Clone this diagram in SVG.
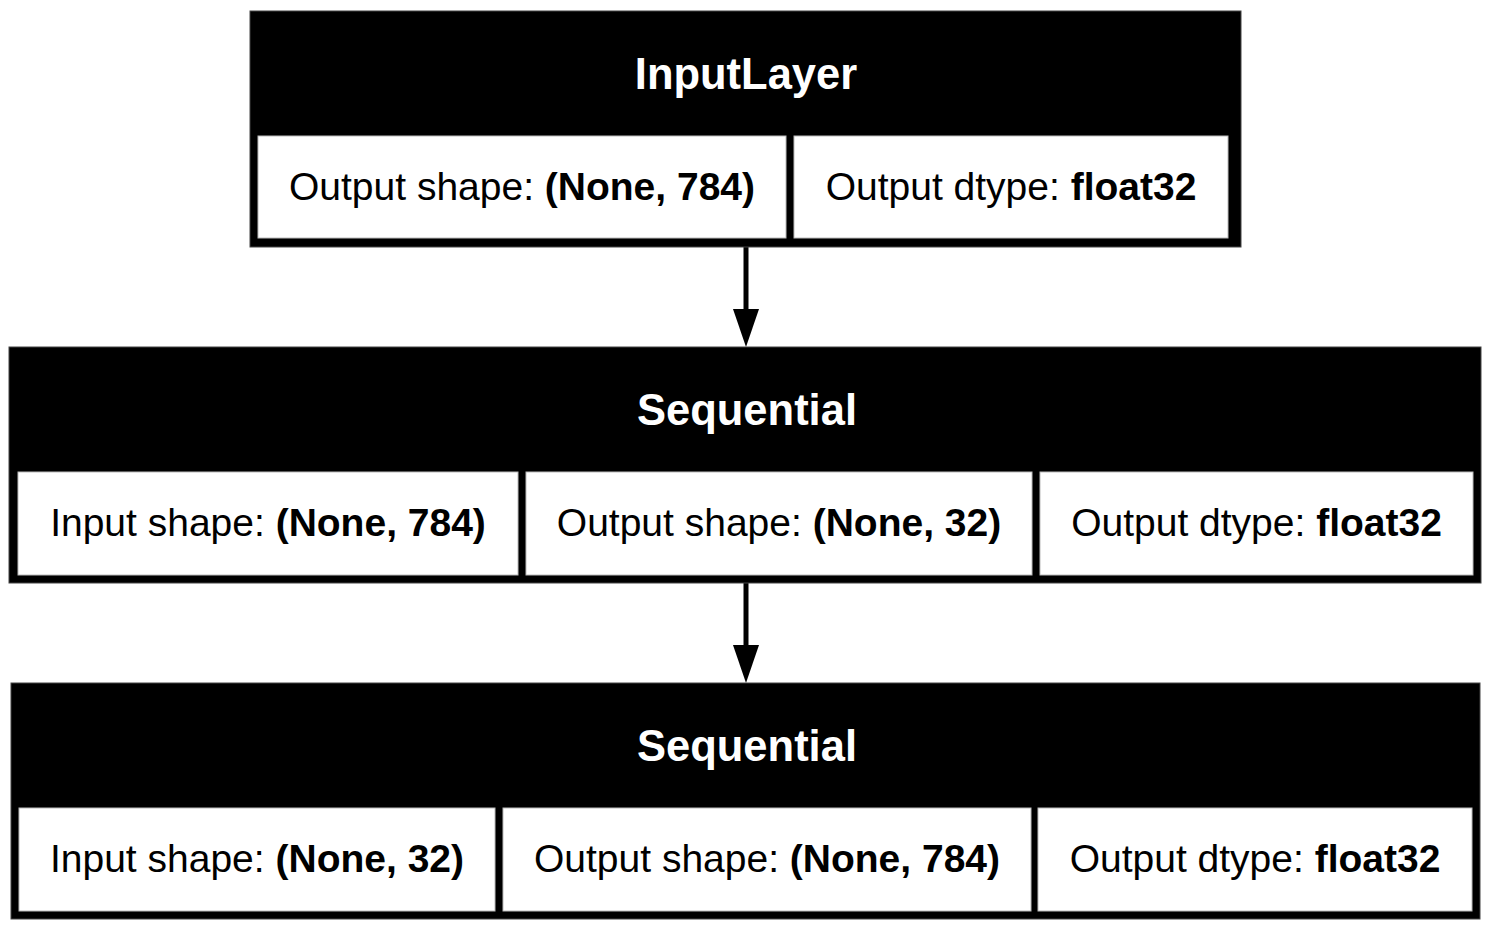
<svg xmlns="http://www.w3.org/2000/svg" width="1492" height="931" viewBox="0 0 1492 931">
<style>
.outer{fill:#000;stroke:#444;stroke-width:1}
.cell{fill:#fff;stroke:#bbb;stroke-width:1}
.title{font-family:"Liberation Sans",Arial,sans-serif;font-weight:bold;font-size:43.5px;fill:#fff;text-anchor:middle}
.body{font-family:"Liberation Sans",Arial,sans-serif;font-size:39px;fill:#000;text-anchor:middle}
.b{font-weight:bold}
.edge{stroke:#000;stroke-width:5;fill:none}
.head{fill:#000}
</style>
<rect width="1492" height="931" fill="#fff"/>
<g id="connectors">
<line class="edge" x1="746" y1="247" x2="746" y2="312"/>
<polygon class="head" points="733,309 759,309 746,347"/>
<line class="edge" x1="746" y1="583" x2="746" y2="648"/>
<polygon class="head" points="733,645 759,645 746,683"/>
</g>
<g id="node-inputlayer">
<rect class="outer" x="250" y="11" width="991" height="236"/>
<text class="title" x="746" y="89">InputLayer</text>
<rect class="cell" x="258" y="136" width="528" height="102"/>
<rect class="cell" x="794" y="136" width="434" height="102"/>
<text class="body" x="522" y="200">Output shape: <tspan class="b">(None, 784)</tspan></text>
<text class="body" x="1011" y="200">Output dtype: <tspan class="b">float32</tspan></text>
</g>
<g id="node-sequential-1">
<rect class="outer" x="9" y="347" width="1472" height="236"/>
<text class="title" x="747" y="425">Sequential</text>
<rect class="cell" x="18" y="472" width="500" height="103"/>
<rect class="cell" x="526" y="472" width="506" height="103"/>
<rect class="cell" x="1040" y="472" width="433" height="103"/>
<text class="body" x="268" y="536">Input shape: <tspan class="b">(None, 784)</tspan></text>
<text class="body" x="779" y="536">Output shape: <tspan class="b">(None, 32)</tspan></text>
<text class="body" x="1256.5" y="536">Output dtype: <tspan class="b">float32</tspan></text>
</g>
<g id="node-sequential-2">
<rect class="outer" x="11" y="683" width="1469" height="236"/>
<text class="title" x="747" y="761">Sequential</text>
<rect class="cell" x="19" y="808" width="476" height="103"/>
<rect class="cell" x="503" y="808" width="528" height="103"/>
<rect class="cell" x="1038" y="808" width="434" height="103"/>
<text class="body" x="257" y="872">Input shape: <tspan class="b">(None, 32)</tspan></text>
<text class="body" x="767" y="872">Output shape: <tspan class="b">(None, 784)</tspan></text>
<text class="body" x="1255" y="872">Output dtype: <tspan class="b">float32</tspan></text>
</g>
</svg>
